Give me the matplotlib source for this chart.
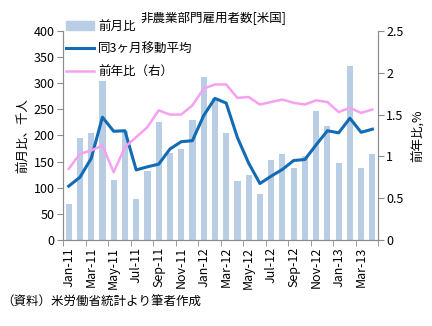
import numpy as np
import matplotlib
matplotlib.use("Agg")
import matplotlib.pyplot as plt
from matplotlib.patches import Patch
from matplotlib.lines import Line2D
from matplotlib.ticker import FormatStrFormatter, FixedLocator

plt.rcParams['font.family'] = ['Noto Sans CJK JP', 'DejaVu Sans']

months = ["Jan-11", "Feb-11", "Mar-11", "Apr-11", "May-11", "Jun-11", "Jul-11",
          "Aug-11", "Sep-11", "Oct-11", "Nov-11", "Dec-11", "Jan-12", "Feb-12",
          "Mar-12", "Apr-12", "May-12", "Jun-12", "Jul-12", "Aug-12", "Sep-12",
          "Oct-12", "Nov-12", "Dec-12", "Jan-13", "Feb-13", "Mar-13", "Apr-13"]
# 前月比 (千人)
mom = [68, 196, 205, 304, 115, 209, 78, 132, 225, 166, 174, 230, 311, 271,
       205, 112, 125, 87, 153, 165, 138, 160, 247, 219, 148, 332, 138, 165]
# 同3ヶ月移動平均
ma3 = [103, 120, 156, 235, 208, 209, 134, 140, 145, 174, 188, 190, 238, 271,
       262, 196, 147, 108, 122, 135, 152, 154, 182, 209, 205, 233, 206, 212]
# 前年比 (%)
yoy = [0.85, 1.03, 1.07, 1.13, 0.81, 1.11, 1.23, 1.35, 1.55, 1.50, 1.50, 1.61,
       1.81, 1.86, 1.86, 1.70, 1.71, 1.62, 1.65, 1.68, 1.64, 1.62, 1.67, 1.65,
       1.53, 1.58, 1.52, 1.56]

x = np.arange(len(months))
bar_c = '#B9CDE5'
ma_c = '#136BB4'
yoy_c = '#F7A0F2'
spine_c = '#8C8C8C'

fig = plt.figure(figsize=(4.32, 3.26), dpi=100)
ax = fig.add_axes([0.146, 0.264, 0.729, 0.641])
ax2 = ax.twinx()

ax.bar(x, mom, width=0.55, color=bar_c, zorder=1)
ax.plot(x, ma3, color=ma_c, lw=2.2, zorder=3)
ax2.plot(x, yoy, color=yoy_c, lw=1.8)

ax.set_xlim(-0.5, len(months) - 0.5)
ax.set_ylim(0, 400)
ax2.set_ylim(0, 2.5)
ax.set_yticks(np.arange(0, 401, 50))
ax2.set_yticks(np.arange(0, 2.51, 0.5))
ax2.yaxis.set_major_formatter(FormatStrFormatter('%g'))

ax.set_xticks(x[::2])
ax.set_xticklabels(months[::2], rotation=90)
ax.xaxis.set_minor_locator(FixedLocator(np.arange(-0.5, len(months), 2)))
ax.tick_params(axis='x', which='major', length=0, labelsize=9, pad=5)
ax.tick_params(axis='x', which='minor', length=4, color=spine_c, direction='out')
ax.tick_params(axis='y', length=4, color=spine_c, labelsize=9, pad=2)
ax2.tick_params(axis='y', length=4, color=spine_c, labelsize=9, pad=2)

for a in (ax, ax2):
    a.spines['top'].set_visible(False)
    for s in ('left', 'right', 'bottom'):
        a.spines[s].set_color(spine_c)

ax.set_ylabel('前月比、千人', fontsize=9, labelpad=3)
ax2.set_ylabel('前年比,%', fontsize=9, labelpad=6)

fig.text(0.495, 0.943, '非農業部門雇用者数[米国]', fontsize=9, ha='center', va='center')
fig.text(0.002, 0.073, '（資料）米労働省統計より筆者作成', fontsize=9, ha='left', va='center')

handles = [Patch(color=bar_c), Line2D([], [], color=ma_c, lw=2.2),
           Line2D([], [], color=yoy_c, lw=1.8)]
labels = ['前月比', '同3ヶ月移動平均', '前年比（右）']
fig.legend(handles, labels, loc='upper left', bbox_to_anchor=(0.152, 0.94),
           frameon=False, fontsize=9, handlelength=2.3, handletextpad=0.3,
           labelspacing=0.8, borderpad=0, borderaxespad=0)

fig.savefig('out.png', dpi=100)
